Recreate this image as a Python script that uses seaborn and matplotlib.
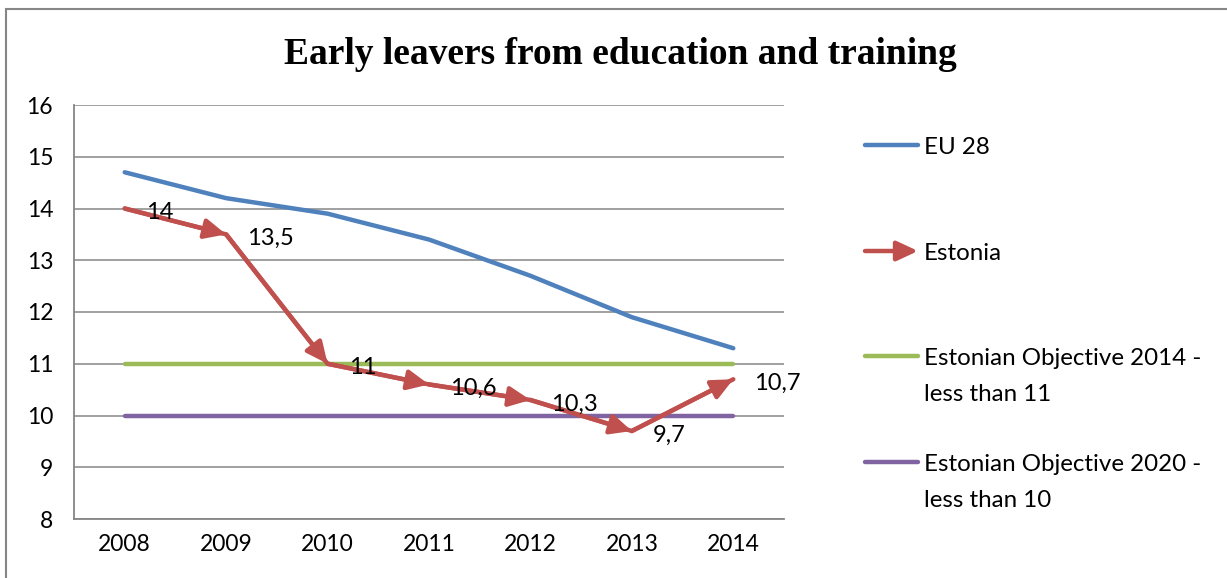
import matplotlib
matplotlib.use("Agg")
import matplotlib.pyplot as plt
from matplotlib.lines import Line2D
from matplotlib.patches import Rectangle, FancyArrowPatch
import seaborn as sns
import pandas as pd

# Share of early leavers from education and training (%)
years = ["2008", "2009", "2010", "2011", "2012", "2013", "2014"]
eu28 = [14.7, 14.2, 13.9, 13.4, 12.7, 11.9, 11.3]
estonia = [14.0, 13.5, 11.0, 10.6, 10.3, 9.7, 10.7]
objective_2014 = [11, 11, 11, 11, 11, 11, 11]
objective_2020 = [10, 10, 10, 10, 10, 10, 10]

series_names = ["EU 28", "Estonia",
                "Estonian Objective 2014 -\nless than 11",
                "Estonian Objective 2020 -\nless than 10"]
y_ticks = [8, 9, 10, 11, 12, 13, 14, 15, 16]
title = "Early leavers from education and training"

BLUE = "#4F81BD"
RED = "#C0504D"
GREEN = "#9BBB59"
PURPLE = "#8064A2"
GREY = "#868686"

sns.set_style("white")
plt.rcParams["font.family"] = ["Lato", "DejaVu Sans"]
plt.rcParams["text.color"] = "black"
plt.rcParams["xtick.labelcolor"] = "black"
plt.rcParams["ytick.labelcolor"] = "black"

W, H = 1227, 578
fig = plt.figure(figsize=(W / 100, H / 100), dpi=100)
ax = fig.add_axes([74 / W, (H - 519) / H, 710 / W, 414 / H])

idx = list(range(len(years)))
df = pd.DataFrame({"pos": idx, "eu": eu28, "ee": estonia,
                   "o14": objective_2014, "o20": objective_2020})

lw = 3.2
sns.lineplot(data=df, x="pos", y="o14", color=GREEN, lw=lw, ax=ax,
             solid_capstyle="round", zorder=3)
sns.lineplot(data=df, x="pos", y="o20", color=PURPLE, lw=lw, ax=ax,
             solid_capstyle="round", zorder=3)
sns.lineplot(data=df, x="pos", y="eu", color=BLUE, lw=lw, ax=ax,
             solid_capstyle="round", zorder=4)
sns.lineplot(data=df, x="pos", y="ee", color=RED, lw=lw, ax=ax,
             solid_capstyle="round", zorder=4)

arrow_style = "-|>,head_length=0.75,head_width=0.35"

# Arrowheads at the end of every Estonia segment
for i in range(len(idx) - 1):
    ax.annotate("", xy=(idx[i + 1], estonia[i + 1]), xytext=(idx[i], estonia[i]),
                arrowprops=dict(arrowstyle=arrow_style,
                                color=RED, lw=lw, shrinkA=0, shrinkB=0,
                                mutation_scale=17),
                zorder=5)

# Value labels beside the Estonia points
for i, v in zip(idx, estonia):
    ax.annotate(f"{v:g}".replace(".", ","), xy=(i, v), xytext=(21, -4),
                textcoords="offset pixels", ha="left", va="center",
                fontsize=17, color="black", zorder=6)

ax.set_xlim(-0.5, len(years) - 0.5)
ax.set_ylim(8, 16)
ax.set_yticks(y_ticks)
ax.set_yticklabels([str(t) for t in y_ticks])
ax.set_xticks([i - 0.5 for i in range(len(years) + 1)])
ax.set_xticklabels([])
ax.set_xticks(idx, minor=True)
ax.set_xticklabels(years, minor=True)
ax.tick_params(axis="x", which="major", direction="out", length=6,
               width=1.2, color=GREY)
ax.tick_params(axis="x", which="minor", length=0, pad=11, labelsize=16.5)
ax.tick_params(axis="y", direction="out", length=6, width=1.2, color=GREY,
               pad=9, labelsize=16.5)
ax.set_xlabel("")
ax.set_ylabel("")

ax.grid(axis="y", color=GREY, lw=1.1)
ax.grid(axis="x", visible=False)
for s in ["top", "right"]:
    ax.spines[s].set_visible(False)
for s in ["left", "bottom"]:
    ax.spines[s].set_color(GREY)
    ax.spines[s].set_linewidth(1.3)
ax.set_axisbelow(True)

fig.text(620 / W, 1 - 54 / H, title, ha="center", va="center", color="black",
         fontsize=27, fontweight="bold", family="Liberation Serif")

# Legend
x0, x1, xt = 865 / W, 918 / W, 924 / W
legend_y = [145, 251, 356, 462]
legend_colors = [BLUE, RED, GREEN, PURPLE]
for name, yy, c in zip(series_names, legend_y, legend_colors):
    yf = 1 - yy / H
    if c == RED:
        fig.add_artist(FancyArrowPatch((x0, yf), (x1, yf), transform=fig.transFigure,
                                       arrowstyle=arrow_style,
                                       mutation_scale=17, color=RED, lw=lw,
                                       shrinkA=0, shrinkB=0))
    else:
        fig.add_artist(Line2D([x0, x1], [yf, yf], transform=fig.transFigure,
                              color=c, lw=lw, solid_capstyle="round"))
    fig.text(xt, yf + 8 / H, name, ha="left", va="top", fontsize=17.4,
             linespacing=1.9, color="black")

# Chart frame
fig.add_artist(Rectangle((6 / W, -0.1), 2.0, 1.1 - 9 / H, transform=fig.transFigure,
                         fill=False, edgecolor=GREY, lw=1.5))

fig.savefig("out.png", dpi=100)
